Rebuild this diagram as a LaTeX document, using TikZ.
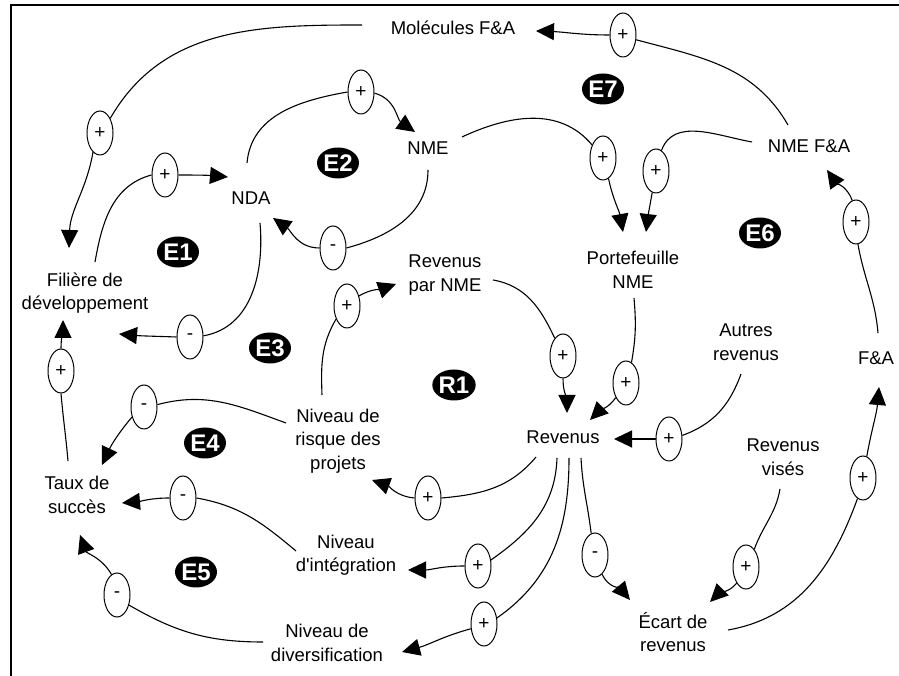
\documentclass[tikz,border=0pt]{standalone}
\usepackage{fontspec}
\setmainfont{Liberation Sans}[Ligatures=TeXOff]
\usetikzlibrary{shapes.geometric,arrows.meta}
\begin{document}
\begin{tikzpicture}[x=1pt,y=1pt,
  lab/.style={font=\fontsize{18.5}{23.5}\selectfont, align=center, inner sep=0pt},
  pol/.style={draw, ellipse, minimum width=26pt, minimum height=44pt, inner sep=0pt,
              line width=1pt, font=\fontsize{19}{19}\selectfont},
  loopid/.style={fill=black, ellipse, minimum width=42pt, minimum height=31pt, inner sep=0pt,
                 text=white, font=\fontsize{24}{24}\selectfont\bfseries},
  link/.style={line width=1.1pt},
  tip/.style={-{Triangle[length=18pt,width=17pt]}}]
\useasboundingbox (0,0) rectangle (899,676);
\fill[white] (0,0) rectangle (899,676);
% window frame
\draw[line width=2pt] (11,0) -- (11,671) -- (899,671);

% variables
\node[lab] (Mol)    at (453,648) {Molécules F\&A};
\node[lab] (NME)    at (428,528) {NME};
\node[lab] (NDA)    at (251,478) {NDA};
\node[lab] (Fil)    at (85,383)  {Filière de\\développement};
\node[lab] (RpN)    at (445,401) {Revenus\\par NME};
\node[lab] (Port)   at (633,406) {Portefeuille\\NME};
\node[lab] (NMEFA)  at (809,530) {NME F\&A};
\node[lab] (Autres) at (746,334) {Autres\\revenus};
\node[lab] (FA)     at (876,318) {F\&A};
\node[lab] (Rev)    at (563,239) {Revenus};
\node[lab] (Vises)  at (783,219) {Revenus\\visés};
\node[lab] (Ecart)  at (673,44)  {Écart de\\revenus};
\node[lab] (Risque) at (338,235) {Niveau de\\risque des\\projets};
\node[lab] (Taux)   at (77,181)  {Taux de\\succès};
\node[lab] (Integ)  at (346,121) {Niveau\\d'intégration};
\node[lab] (Divers) at (327,33)  {Niveau de\\diversification};

% loop identifiers
\node[loopid] (E7) at (603,587) {E7};
\node[loopid] (E2) at (338,513) {E2};
\node[loopid] (E1) at (178,424) {E1};
\node[loopid] (E6) at (760,443) {E6};
\node[loopid] (E3) at (270,328) {E3};
\node[loopid] (R1) at (454,291) {R1};
\node[loopid] (E4) at (205,233) {E4};
\node[loopid] (E5) at (196,104) {E5};

% polarity marks
\node[pol] (p1)  at (100,543) {+};
\node[pol] (p2)  at (165,501) {+};
\node[pol] (p3)  at (361,584) {+};
\node[pol] (p4)  at (333,428) {-};
\node[pol] (p5)  at (190,339) {-};
\node[pol] (p6)  at (603,518) {+};
\node[pol] (p7)  at (656,505) {+};
\node[pol] (p8)  at (623,641) {+};
\node[pol] (p9)  at (856,454) {+};
\node[pol] (p10) at (347,370) {+};
\node[pol] (p11) at (563,320) {+};
\node[pol] (p12) at (626,293) {+};
\node[pol] (p13) at (669,237) {+};
\node[pol] (p14) at (61,305)  {+};
\node[pol] (p15) at (144,269) {-};
\node[pol] (p16) at (428,178) {+};
\node[pol] (p17) at (183,178) {-};
\node[pol] (p18) at (117,81)  {-};
\node[pol] (p19) at (478,110) {+};
\node[pol] (p20) at (484,52)  {+};
\node[pol] (p21) at (595,121) {-};
\node[pol] (p22) at (746,109) {+};
\node[pol] (p23) at (863,198) {+};

% causal links
\draw[link] ([shift={(-91,3)}]Mol.center) to[out=180,in=60] (p1.55);
\draw[link,tip] (p1.-110) to[out=-100,in=88] ([shift={(-16,45)}]Fil.center);

\draw[link] ([shift={(10,31)}]Fil.center) to[out=80,in=195] (p2.180);
\draw[link,tip] (p2.0) to[out=0,in=175] ([shift={(-23,21)}]NDA.center);

\draw[link] ([shift={(-4,35)}]NDA.center) to[out=85,in=190] (p3.180);
\draw[link,tip] (p3.-5) to[out=-15,in=145] ([shift={(-13,16)}]NME.center);

\draw[link] ([shift={(0,-22)}]NME.center) to[out=-90,in=15] (p4.0);
\draw[link,tip] (p4.180) to[out=180,in=-35] ([shift={(22,-20)}]NDA.center);

\draw[link] ([shift={(9,-25)}]NDA.center) to[out=-85,in=10] (p5.5);
\draw[link,tip] (p5.180) to[out=178,in=-5] ([shift={(34,-41)}]Fil.center);

\draw[link] ([shift={(34,11)}]NME.center) to[out=25,in=130] (p6.130);
\draw[link,tip] (p6.-75) to[out=-78,in=100] ([shift={(-10,38)}]Port.center);

\draw[link] ([shift={(-57,4)}]NMEFA.center) to[out=170,in=70] (p7.75);
\draw[link,tip] (p7.-100) to[out=-100,in=83] ([shift={(13,38)}]Port.center);

\draw[link] ([shift={(-21,21)}]NMEFA.center) to[out=120,in=-15] (p8.-20);
\draw[link,tip] (p8.180) to[out=180,in=-2] ([shift={(83,-3)}]Mol.center);

\draw[link] ([shift={(2,25)}]FA.center) to[out=95,in=-80] (p9.-85);
\draw[link,tip] (p9.100) to[out=110,in=-55] ([shift={(18,-24)}]NMEFA.center);

\draw[link] ([shift={(-16,46)}]Risque.center) to[out=92,in=-120] (p10.-130);
\draw[link,tip] (p10.40) to[out=30,in=200] ([shift={(-49,-9)}]RpN.center);

\draw[link] ([shift={(48,-5)}]RpN.center) to[out=-10,in=115] (p11.115);
\draw[link,tip] (p11.-90) to[out=-90,in=90] ([shift={(4,24)}]Rev.center);

\draw[link] ([shift={(1,-28)}]Port.center) to[out=-85,in=80] (p12.75);
\draw[link,tip] (p12.-125) to[out=-125,in=45] ([shift={(27,17)}]Rev.center);

\draw[link] ([shift={(-5,-32)}]Autres.center) to[out=-110,in=20] (p13.15);
\draw[link,tip] (p13.180) to[out=180,in=0] ([shift={(51,-2)}]Rev.center);

\draw[link] ([shift={(-9,34)}]Taux.center) to[out=95,in=-85] (p14.-90);
\draw[link,tip] (p14.90) to[out=90,in=-90] ([shift={(-22,-27)}]Fil.center);

\draw[link] ([shift={(-52,18)}]Risque.center) to[out=160,in=15] (p15.10);
\draw[link,tip] (p15.-140) to[out=-130,in=65] ([shift={(25,30)}]Taux.center);

\draw[link] ([shift={(-27,-20)}]Rev.center) to[out=-130,in=5] (p16.0);
\draw[link,tip] (p16.180) to[out=175,in=-20] ([shift={(34,-39)}]Risque.center);

\draw[link] ([shift={(-50,4)}]Integ.center) to[out=140,in=-10] (p17.0);
\draw[link,tip] (p17.180) to[out=180,in=5] ([shift={(45,-8)}]Taux.center);

\draw[link] ([shift={(-64,1)}]Divers.center) to[out=180,in=-30] (p18.-40);
\draw[link,tip] (p18.105) to[out=120,in=-70] ([shift={(3,-40)}]Taux.center);

\draw[link] ([shift={(-6,-21)}]Rev.center) to[out=-92,in=35] (p19.25);
\draw[link,tip] (p19.180) to[out=180,in=0] ([shift={(62,-15)}]Integ.center);

\draw[link] ([shift={(6,-21)}]Rev.center) to[out=-90,in=35] (p20.25);
\draw[link,tip] (p20.-160) to[out=-165,in=15] ([shift={(75,-9)}]Divers.center);

\draw[link] ([shift={(18,-21)}]Rev.center) to[out=-87,in=97] (p21.100);
\draw[link,tip] (p21.-70) to[out=-65,in=130] ([shift={(-43,32)}]Ecart.center);

\draw[link] ([shift={(-3,-32)}]Vises.center) to[out=-100,in=70] (p22.65);
\draw[link,tip] (p22.-120) to[out=-130,in=45] ([shift={(37,30)}]Ecart.center);

\draw[link] ([shift={(55,2)}]Ecart.center) to[out=10,in=-110] (p23.-105);
\draw[link,tip] (p23.80) to[out=80,in=-95] ([shift={(3,-29)}]FA.center);
\end{tikzpicture}
\end{document}
